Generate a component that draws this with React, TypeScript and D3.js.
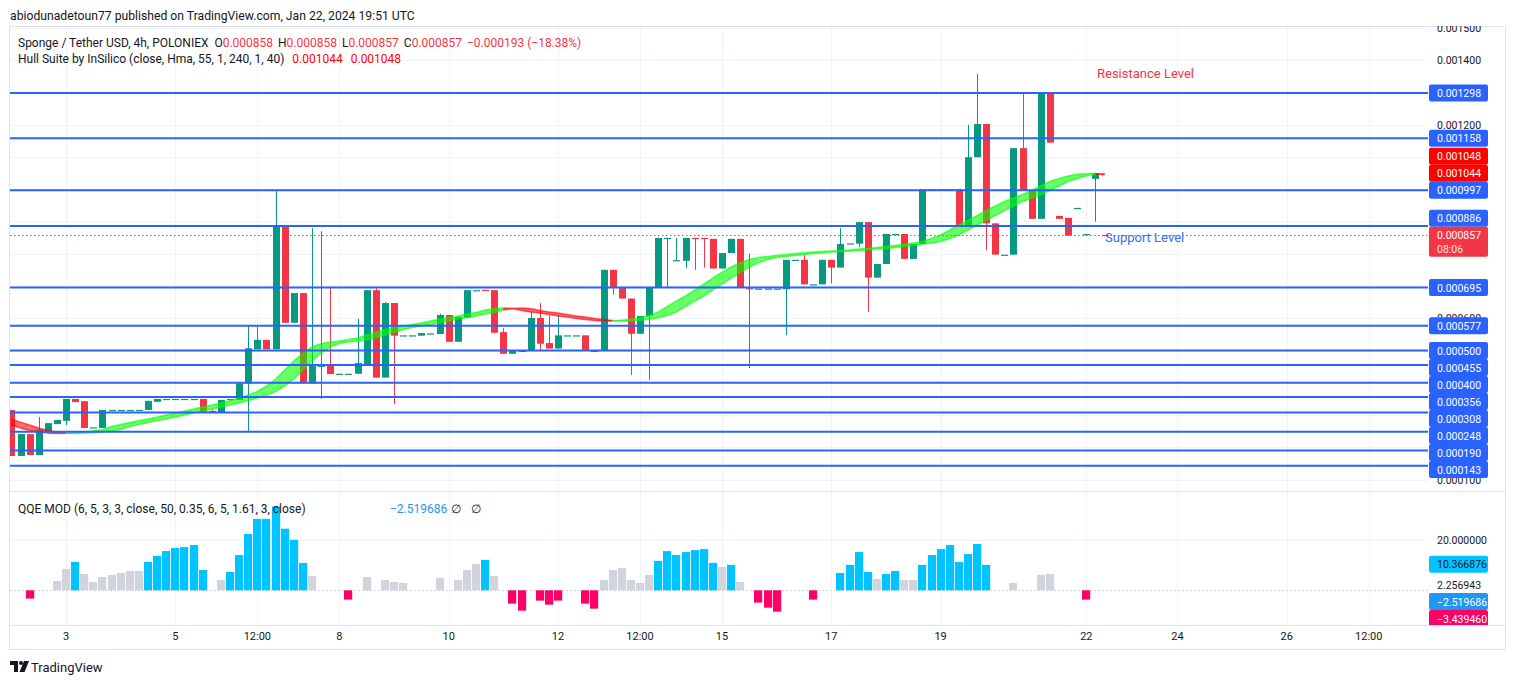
import React from "react"
import * as d3 from "d3"

// candle and hull values are written in millionths of USDT
const PRICE_UNIT = 1e-6

// [open, high, low, close] per 4h bar, first bar Jan 2 00:00
const ohlc = [
  [316, 316, 173, 173], [173, 241, 173, 241], [241, 241, 176, 176], [176, 294, 176, 254],
  [248, 275, 248, 275], [272, 285, 272, 285], [282, 350, 269, 350], [350, 350, 340, 340],
  [343, 343, 260, 260], [262, 262, 262, 262], [260, 316, 260, 316], [316, 316, 316, 316],
  [316, 316, 316, 316], [316, 316, 316, 316], [316, 316, 316, 316], [316, 344, 316, 344],
  [341, 350, 341, 350], [350, 350, 350, 350], [350, 350, 350, 350], [350, 350, 350, 350],
  [350, 350, 350, 350], [350, 350, 310, 310], [313, 318, 310, 310], [307, 347, 307, 347],
  [350, 350, 350, 350], [347, 398, 347, 398], [398, 576, 251, 507], [504, 574, 504, 533],
  [533, 533, 504, 504], [504, 997, 504, 884], [884, 884, 586, 586], [586, 678, 586, 678],
  [678, 678, 398, 398], [398, 879, 398, 455], [453, 870, 350, 453], [452, 696, 427, 427],
  [428, 428, 428, 428], [428, 428, 428, 428], [428, 598, 428, 461], [458, 687, 458, 687],
  [687, 693, 416, 416], [416, 650, 416, 647], [647, 647, 334, 546], [547, 547, 547, 547],
  [547, 547, 547, 547], [546, 554, 546, 554], [553, 553, 553, 553], [551, 614, 551, 610],
  [610, 610, 527, 527], [527, 604, 527, 604], [602, 687, 602, 687], [687, 687, 687, 687],
  [688, 688, 687, 687], [687, 687, 555, 555], [557, 569, 490, 490], [490, 499, 490, 499],
  [499, 499, 499, 499], [499, 620, 499, 601], [601, 647, 497, 521], [523, 608, 506, 506],
  [506, 608, 506, 547], [547, 547, 547, 547], [547, 547, 547, 547], [547, 547, 499, 499],
  [499, 499, 499, 499], [499, 750, 499, 750], [750, 750, 673, 695], [695, 695, 661, 661],
  [661, 661, 424, 552], [552, 607, 552, 607], [607, 696, 409, 696], [696, 849, 696, 849],
  [849, 849, 695, 849], [780, 849, 780, 780], [778, 849, 755, 849], [849, 849, 750, 848],
  [849, 849, 757, 848], [846, 846, 754, 754], [754, 802, 754, 802], [802, 846, 802, 846],
  [846, 846, 695, 695], [693, 800, 445, 692], [692, 692, 692, 692], [692, 692, 692, 692],
  [692, 692, 692, 692], [690, 781, 548, 781], [781, 781, 781, 781], [781, 796, 705, 705],
  [705, 705, 705, 705], [705, 781, 705, 781], [781, 781, 708, 757], [757, 879, 757, 830],
  [832, 832, 832, 832], [831, 898, 820, 898], [898, 898, 620, 726], [726, 768, 726, 768],
  [768, 861, 768, 861], [861, 861, 861, 861], [861, 861, 784, 784], [784, 830, 784, 830],
  [830, 1000, 830, 1000], [1000, 1000, 1000, 1000], [1000, 1000, 1000, 1000], [1000, 1000, 1000, 1000],
  [1000, 1000, 887, 887], [887, 1199, 887, 1099], [1099, 1357, 1099, 1202], [1202, 1202, 811, 894],
  [894, 894, 797, 797], [797, 797, 797, 797], [797, 1127, 797, 1127], [1127, 1296, 995, 995],
  [995, 995, 908, 908], [908, 1296, 908, 1296], [1296, 1296, 1144, 1144], [917, 917, 908, 908],
  [911, 911, 856, 856], [942, 942, 942, 942], [861, 861, 861, 861], [1032, 1049, 899, 1049],
  [858, 858, 857, 857]
]

// Hull MA, the two bars before the first candle, then one value per candle
const hullBefore = [287, 278]
const hull = [
  269, 260, 252, 247.5, 244, 243, 243.5, 245, 247.5, 250.5, 255, 264.5, 270.7, 276.9, 283, 287.8,
  294, 300, 306.4, 312.6, 318.8, 325, 331.2, 337.4, 345.1, 352.9, 362.2, 373, 390, 411.7, 439.6, 467.5,
  492.3, 510.9, 521.7, 526.4, 529.5, 534.1, 538.8, 548.1, 555.8, 565.1, 571.3, 576, 580.6, 585.3, 591.5, 597.7,
  602.3, 607, 613.2, 617.8, 625.6, 630.2, 631.8, 630.2, 624, 619.4, 616.3, 611.6, 607, 603.9, 599.2, 596.1,
  593, 591.5, 591.5, 593.6, 596.7, 601.7, 608.5, 619.4, 636.4, 653.5, 669, 687.6, 706.1, 724.7, 741.8, 758.8,
  772.1, 782.1, 788.3, 791.4, 794.4, 797.5, 800.7, 803.1, 805.3, 806.8, 808.4, 809.9, 811.5, 814.6, 816.1, 819.2,
  822.3, 825.4, 829.2, 833.2, 837.8, 847.1, 858, 873.5, 889, 902.9, 918.4, 933.9, 947.9, 961.8, 972.6, 983.5,
  995.9, 1009.8, 1023.8, 1033.1, 1040.8, 1046.1, 1048, 1048.6, 1044
]

// QQE MOD histogram, null where no column is drawn
const qqe = [
  null, null, -3.3, null, null, 3.7, 8.5, 11.3, 6.5, 3.3, 5.3, 6.1, 6.9, 7.7, 7.7, 11.3,
  13.7, 15.6, 16.8, 17.2, 18.0, 8.1, null, 4.1, 7.3, 14.0, 22.4, 28.4, 28.4, 33.3, 24.5, 20.1,
  10.9, 5.7, null, null, null, -3.7, null, 5.3, null, 4.1, 3.3, 2.9, null, null, null, 4.9,
  null, 4.1, 8.1, 10.5, 12.1, 5.7, null, -5.3, -8.1, null, -4.1, -5.7, -4.1, null, null, -5.3,
  -7.3, 4.1, 8.1, 8.9, 4.1, 2.9, 6.1, 11.7, 15.6, 14.0, 15.2, 16.0, 16.4, 10.9, 9.3, 10.1,
  3.3, null, -4.9, -6.9, -8.5, null, null, null, -3.7, null, null, 6.9, 10.1, 15.2, 7.3, 4.5,
  6.5, 7.7, 4.1, 4.1, 10.1, 14.0, 16.4, 18.0, 11.3, 14.4, 18.4, 10.1, null, null, 2.9, null,
  null, 6.1, 6.5, null, null, null, -3.7, null, null
]
const qqeBlue = [7, 15, 16, 17, 18, 19, 20, 21, 24, 25, 26, 27, 28, 29, 30, 31, 32, 52, 71, 72, 73, 74, 75, 76, 77, 79, 91, 92, 93, 94, 96, 97, 100, 101, 102, 103, 104, 105, 106, 107]

const levels = [0.001298, 0.001158, 0.000997, 0.000886, 0.000695, 0.000577, 0.0005, 0.000455, 0.0004, 0.000356, 0.000308, 0.000248, 0.00019, 0.000143]
const lastPrice = 0.000857
const hullNow = [0.001048, 0.001044]
const priceTicks = d3.range(1, 16).map((k) => k / 10000)
const qqeTicks = [20]
const qqeValues = [
  { v: 10.366876, bg: "#00c3ff", fg: "#131722" },
  { v: 2.256943, bg: "none", fg: "#131722" },
  { v: -2.519686, bg: "#2196f3", fg: "#ffffff" },
  { v: -3.43946, bg: "#ff0066", fg: "#ffffff" }
]
// bar index where each time label sits
const timeTicks: [number, string][] = [
  [6, "3"], [18, "5"], [27, "12:00"], [36, "8"], [48, "10"], [60, "12"], [69, "12:00"], [78, "15"],
  [90, "17"], [102, "19"], [118, "22"], [128, "24"], [140, "26"], [149, "12:00"]
]

const GREEN = "#089981"
const RED = "#f23645"
const BLUE = "#2962ff"
const TEXT = "#131722"
const GRID = "#f0f3fa"
const FONT = "Roboto, 'Noto Sans', sans-serif"

const LEFT = 10
const RIGHT = 1428
const MAIN_TOP = 26
const MAIN_BOTTOM = 491
const QQE_TOP = 492
const QQE_BOTTOM = 625
const BOX_H = 17
const AXIS_FONT = 10.5

// keep axis boxes from overlapping: above the anchor push up, below push down
function stack(items, anchorTop, anchorBottom) {
  const above = items.filter((d) => d.y < anchorTop + BOX_H / 2).sort((a, b) => b.y - a.y)
  let limit = anchorTop
  above.forEach((d) => {
    d.ly = Math.min(d.y, limit - BOX_H / 2)
    limit = d.ly - BOX_H / 2
  })
  const below = items.filter((d) => !above.includes(d)).sort((a, b) => a.y - b.y)
  limit = anchorBottom
  below.forEach((d) => {
    d.ly = Math.max(d.y, limit + BOX_H / 2)
    limit = d.ly + BOX_H / 2
  })
  return items
}

export default function App() {
  const x = d3.scaleLinear().domain([0, 120]).range([11.4, 1104.6])
  const y = d3.scaleLinear().domain([0.0001, 0.0015]).range([479.6, 27.8])
  const yq = d3.scaleLinear().domain([0, 20]).range([590.3, 540])

  const hullAll = [...hullBefore, ...hull]
  const hullAt = (i) => hullAll[i + 2] * PRICE_UNIT
  const shullAt = (i) => hullAll[i] * PRICE_UNIT

  const bands = d3.range(1, ohlc.length).map((i) => {
    const up = hullAt(i) > shullAt(i)
    const x0 = x(i - 1)
    const x1 = x(i)
    return {
      color: up ? "#00ff00" : "#ff0000",
      area: `M${x0},${y(hullAt(i - 1))}L${x1},${y(hullAt(i))}L${x1},${y(shullAt(i))}L${x0},${y(shullAt(i - 1))}Z`,
      m: `M${x0},${y(hullAt(i - 1))}L${x1},${y(hullAt(i))}`,
      s: `M${x0},${y(shullAt(i - 1))}L${x1},${y(shullAt(i))}`
    }
  })

  const priceY = y(lastPrice)
  const boxes = stack(
    [
      ...levels.map((v) => ({ v, y: y(v), bg: BLUE, fg: "#ffffff" })),
      ...hullNow.map((v) => ({ v, y: y(v), bg: "#ff0000", fg: "#ffffff" }))
    ],
    priceY - 8.5,
    priceY + 21.5
  )
  const qBoxes = stack(qqeValues.map((d) => ({ ...d, y: yq(d.v) })), -100, -100)

  // the scale hides a tick label that sits under a label box
  const boxCenters = [...boxes.map((b) => b.ly), priceY, priceY + 13]
  const visibleTicks = priceTicks.filter((t) => boxCenters.every((c) => Math.abs(c - y(t)) >= 7))

  return (
    <div style={{ position: "absolute", left: 0, top: 0 }}>
      <svg width={1515} height={685} style={{ display: "block", fontFamily: FONT }}>
        <defs>
          <clipPath id="main"><rect x={LEFT} y={MAIN_TOP} width={RIGHT - LEFT} height={MAIN_BOTTOM - MAIN_TOP} /></clipPath>
          <clipPath id="qqe"><rect x={LEFT} y={QQE_TOP} width={RIGHT - LEFT} height={QQE_BOTTOM - QQE_TOP} /></clipPath>
          <clipPath id="mainAxis"><rect x={RIGHT} y={MAIN_TOP} width={80} height={MAIN_BOTTOM - MAIN_TOP} /></clipPath>
          <clipPath id="qqeAxis"><rect x={RIGHT} y={QQE_TOP} width={80} height={QQE_BOTTOM - QQE_TOP} /></clipPath>
        </defs>
        <rect width={1515} height={685} fill="#ffffff" />

        <text x={10} y={19.5} fontSize={12.2} fill={TEXT}>
          abiodunadetoun77 published on TradingView.com, Jan 22, 2024 19:51 UTC
        </text>

        {/* grid */}
        <g clipPath="url(#main)">
          {priceTicks.map((t) => (
            <line key={t} x1={LEFT} x2={RIGHT} y1={Math.round(y(t)) + 0.5} y2={Math.round(y(t)) + 0.5} stroke={GRID} />
          ))}
        </g>
        {timeTicks.map(([i, label], k) => (
          <line key={k} x1={Math.round(x(i)) + 0.5} x2={Math.round(x(i)) + 0.5} y1={MAIN_TOP} y2={QQE_BOTTOM} stroke={GRID} />
        ))}
        <line x1={LEFT} x2={RIGHT} y1={Math.round(yq(20)) + 0.5} y2={Math.round(yq(20)) + 0.5} stroke={GRID} />

        {/* candles */}
        <g clipPath="url(#main)">
          {ohlc.map(([o, h, l, c], i) => {
            const col = c >= o ? GREEN : RED
            const cx = Math.round(x(i))
            const top = y(Math.max(o, c) * PRICE_UNIT)
            const bot = y(Math.min(o, c) * PRICE_UNIT)
            return (
              <g key={i}>
                {h > l && (
                  <line x1={cx + 0.5} x2={cx + 0.5} y1={y(h * PRICE_UNIT)} y2={y(l * PRICE_UNIT)} stroke={col} />
                )}
                <rect x={cx - 3} y={top} width={7} height={Math.max(1.2, bot - top)} fill={col} />
              </g>
            )
          })}

          {/* hull suite band */}
          {bands.map((b, i) => (
            <g key={i}>
              <path d={b.area} fill={b.color} fillOpacity={0.6} />
              <path d={b.m} stroke={b.color} strokeOpacity={0.6} strokeWidth={1.5} fill="none" />
              <path d={b.s} stroke={b.color} strokeOpacity={0.6} strokeWidth={1.5} fill="none" />
            </g>
          ))}

          {levels.map((v) => (
            <line key={v} x1={LEFT} x2={RIGHT} y1={y(v)} y2={y(v)} stroke={BLUE} strokeWidth={2} />
          ))}
          <line x1={LEFT} x2={RIGHT} y1={Math.round(priceY) + 0.5} y2={Math.round(priceY) + 0.5} stroke={RED} strokeDasharray="1.5 2.5" />
        </g>

        <text x={1097} y={78} fontSize={13} fill={RED}>Resistance Level</text>
        <text x={1105} y={241.5} fontSize={13} fill="#3a6cf4">Support Level</text>

        {/* legend */}
        <text x={18} y={46.5} fontSize={12} fill={TEXT}>
          <tspan>Sponge / Tether USD, 4h, POLONIEX</tspan>
          <tspan dx={6}>O</tspan><tspan fill={RED}>0.000858</tspan>
          <tspan dx={5}>H</tspan><tspan fill={RED}>0.000858</tspan>
          <tspan dx={5}>L</tspan><tspan fill={RED}>0.000857</tspan>
          <tspan dx={5}>C</tspan><tspan fill={RED}>0.000857</tspan>
          <tspan dx={5} fill={RED}>−0.000193 (−18.38%)</tspan>
        </text>
        <text x={18} y={63} fontSize={12} fill={TEXT}>
          <tspan>Hull Suite by InSilico (close, Hma, 55, 1, 240, 1, 40)</tspan>
          <tspan dx={8} fill="#ff0000">0.001044</tspan>
          <tspan dx={8} fill="#ff0000">0.001048</tspan>
        </text>

        {/* panes */}
        <rect x={9.5} y={26.5} width={1496} height={623} fill="none" stroke="#e0e3eb" />
        <line x1={LEFT} x2={1505} y1={MAIN_BOTTOM + 0.5} y2={MAIN_BOTTOM + 0.5} stroke="#e0e3eb" />
        <line x1={LEFT} x2={1505} y1={QQE_BOTTOM + 0.5} y2={QQE_BOTTOM + 0.5} stroke="#e0e3eb" />

        {/* QQE MOD */}
        <g clipPath="url(#qqe)">
          <line x1={LEFT} x2={RIGHT} y1={Math.round(yq(0)) + 0.5} y2={Math.round(yq(0)) + 0.5} stroke="#d1d4dc" strokeDasharray="2 2" />
          {qqe.map((v, i) => {
            if (v === null) return null
            const fill = v < 0 ? "#ff0066" : qqeBlue.includes(i) ? "#00c3ff" : "#d1d4dc"
            const y0 = yq(0)
            const y1 = yq(v)
            return <rect key={i} x={Math.round(x(i)) - 4} y={Math.min(y0, y1)} width={8.2} height={Math.abs(y1 - y0)} fill={fill} />
          })}
        </g>
        <text x={18} y={513} fontSize={12} fill={TEXT}>
          QQE MOD (6, 5, 3, 3, close, 50, 0.35, 6, 5, 1.61, 3, close)
        </text>
        <text x={390} y={513} fontSize={12} fill="#2196f3">−2.519686</text>
        <text x={451} y={513} fontSize={12} fill={TEXT}>∅</text>
        <text x={471} y={513} fontSize={12} fill={TEXT}>∅</text>

        {/* price axis */}
        <g clipPath="url(#mainAxis)" fontSize={AXIS_FONT}>
          {visibleTicks.map((t) => (
            <text key={t} x={1437} y={y(t) + 4} fill={TEXT}>{t.toFixed(6)}</text>
          ))}
          {boxes.map((b) => (
            <g key={b.v}>
              <rect x={1429} y={b.ly - BOX_H / 2} width={59} height={BOX_H} rx={2} fill={b.bg} />
              <text x={1437} y={b.ly + 4} fill={b.fg}>{b.v.toFixed(6)}</text>
            </g>
          ))}
          <rect x={1429} y={priceY - 8.5} width={59} height={30} rx={2} fill={RED} />
          <text x={1437} y={priceY + 4} fill="#ffffff">{lastPrice.toFixed(6)}</text>
          <text x={1437} y={priceY + 18} fill="#ffe0e3">08:06</text>
        </g>
        <g clipPath="url(#qqeAxis)" fontSize={AXIS_FONT}>
          {qqeTicks.map((t) => (
            <text key={t} x={1437} y={yq(t) + 4} fill={TEXT}>{t.toFixed(6)}</text>
          ))}
          {qBoxes.map((b) => (
            <g key={b.v}>
              {b.bg !== "none" && <rect x={1429} y={b.ly - BOX_H / 2} width={59} height={BOX_H} rx={2} fill={b.bg} />}
              <text x={1437} y={b.ly + 4} fill={b.fg}>{b.v < 0 ? "−" + Math.abs(b.v).toFixed(6) : b.v.toFixed(6)}</text>
            </g>
          ))}
        </g>

        {/* time axis */}
        {timeTicks.map(([i, label], k) => (
          <text key={k} x={x(i)} y={640} fontSize={11} textAnchor="middle" fill={TEXT}>{label}</text>
        ))}

        {/* logo */}
        <g fill={TEXT}>
          <path d="M10,661h8v11h-4v-7h-4z" />
          <circle cx={21} cy={663} r={2} />
          <path d="M24,661h5l-4.5,11h-5z" />
        </g>
        <text x={31} y={672} fontSize={13} fill={TEXT}>TradingView</text>
      </svg>
    </div>
  )
}
